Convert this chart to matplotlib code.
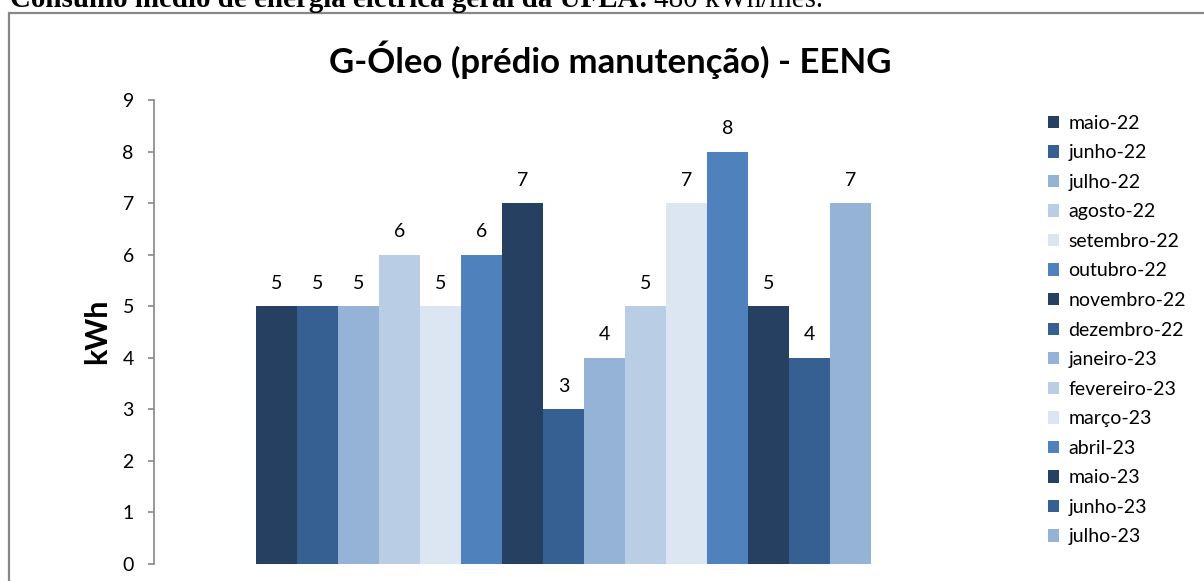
import matplotlib.pyplot as plt
from matplotlib.patches import Rectangle, Patch

# data
months = ['maio-22', 'junho-22', 'julho-22', 'agosto-22', 'setembro-22', 'outubro-22',
          'novembro-22', 'dezembro-22', 'janeiro-23', 'fevereiro-23', 'março-23',
          'abril-23', 'maio-23', 'junho-23', 'julho-23']
kwh = [5, 5, 5, 6, 5, 6, 7, 3, 4, 5, 7, 8, 5, 4, 7]
palette = ['#254061', '#366092', '#95B3D7', '#B9CDE5', '#DCE6F2', '#4F81BD']
colors = [palette[i % len(palette)] for i in range(len(months))]

W, H = 1204, 581
plt.rcParams['font.family'] = ['Lato', 'DejaVu Sans']

fig = plt.figure(figsize=(W / 100, H / 100), dpi=100)
renderer = fig.canvas.get_renderer()

# chart frame (continues past the bottom/right of the crop)
fig.patches.append(Rectangle((9 / W, -0.1), 1.2, (H - 13) / H + 0.1,
                             transform=fig.transFigure, fill=False,
                             edgecolor='#888888', linewidth=1.6))

# caption above the chart, only its lower part shows
cap = fig.text(10 / W, 1 - 7 / H, 'Consumo médio de energia elétrica geral da UFLA:',
               family='Liberation Serif', fontweight='bold', fontsize=14, va='baseline')
w = cap.get_window_extent(renderer).width
cap.set_fontsize(14 * 640 / w)
cap_end = cap.get_window_extent(renderer).x1
fig.text((cap_end + 6) / W, 1 - 7 / H, '480 kWh/mês.',
         family='Liberation Serif', fontsize=cap.get_fontsize(), va='baseline')

ax = fig.add_axes([154 / W, 17 / H, (973 - 154) / W, 464 / H])
x = list(range(len(months)))
ax.bar(x, kwh, width=1.0, color=colors)
for xi, v in zip(x, kwh):
    ax.annotate(str(v), (xi, v), xytext=(0, 16.5), textcoords='offset points',
                ha='center', va='center', fontsize=14)

ax.set_xlim(-0.5 - 2.49, len(months) - 0.5 + 2.49)
ax.set_ylim(0, 9)
ax.set_yticks(range(10))
ax.set_xticks([])
for s in ['top', 'right', 'bottom']:
    ax.spines[s].set_visible(False)
ax.spines['left'].set_color('#888888')
ax.spines['left'].set_linewidth(1.2)
ax.tick_params(axis='y', length=4.5, width=1.2, color='#888888', labelsize=14, pad=10)

fig.text(97 / W, 1 - 331 / H, 'kWh', rotation=90, ha='center', va='center',
         fontsize=22, fontweight='bold')

fig.text(610 / W, 1 - 60 / H, 'G-Óleo (prédio manutenção) - EENG',
         ha='center', va='center', fontsize=25, fontweight='bold')

handles = [Patch(facecolor=c) for c in colors]
fig.legend(handles, months, loc='upper left', bbox_to_anchor=(1040 / W, 1 - 107 / H),
           frameon=False, fontsize=14, handlelength=0.6, handleheight=0.6,
           handletextpad=0.45, labelspacing=0.645, borderaxespad=0)

fig.savefig('out.png', dpi=100)
